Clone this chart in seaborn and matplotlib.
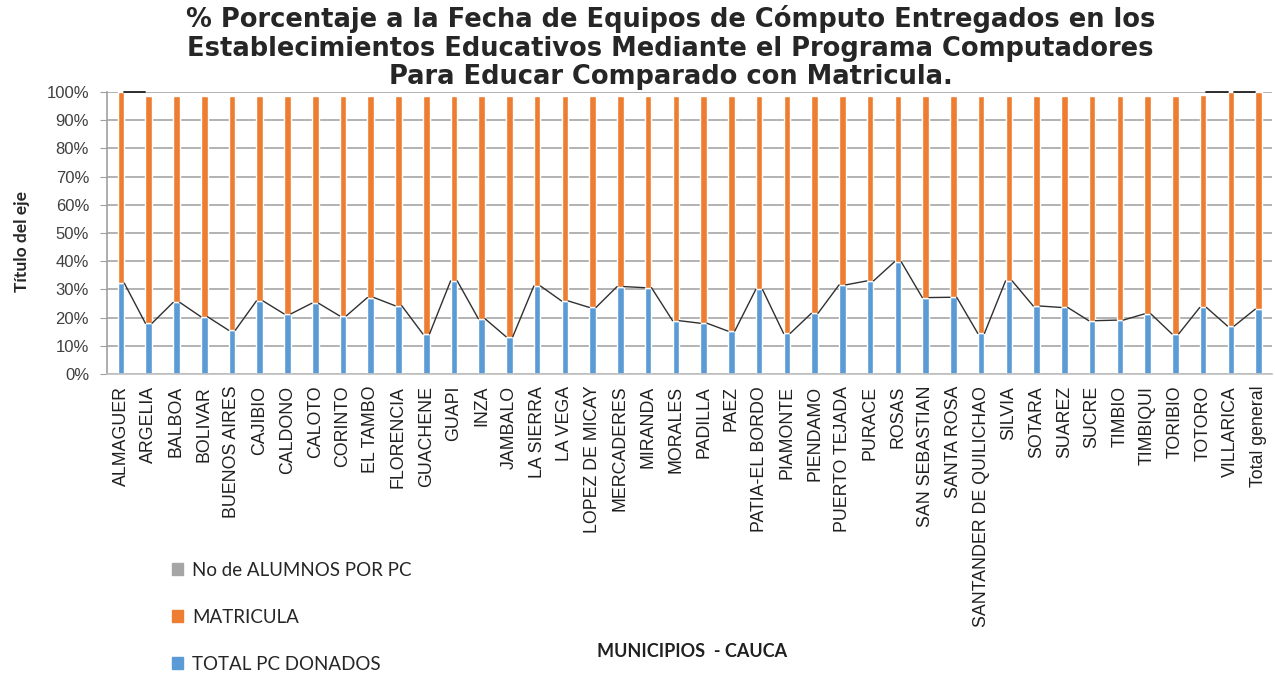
import matplotlib
matplotlib.use("Agg")
import matplotlib.pyplot as plt
import seaborn as sns
from matplotlib.patches import Patch

municipios = ["ALMAGUER", "ARGELIA", "BALBOA", "BOLIVAR", "BUENOS AIRES", "CAJIBIO",
              "CALDONO", "CALOTO", "CORINTO", "EL TAMBO", "FLORENCIA", "GUACHENE",
              "GUAPI", "INZA", "JAMBALO", "LA SIERRA", "LA VEGA", "LOPEZ DE MICAY",
              "MERCADERES", "MIRANDA", "MORALES", "PADILLA", "PAEZ", "PATIA-EL BORDO",
              "PIAMONTE", "PIENDAMO", "PUERTO TEJADA", "PURACE", "ROSAS", "SAN SEBASTIAN",
              "SANTA ROSA", "SANTANDER DE QUILICHAO", "SILVIA", "SOTARA", "SUAREZ", "SUCRE",
              "TIMBIO", "TIMBIQUI", "TORIBIO", "TOTORO", "VILLARICA", "Total general"]

# % share of each series in the 100% stacked column
pc_donados = [32.2, 18.0, 25.4, 20.3, 15.5, 25.9, 21.3, 25.1, 20.6, 27.1, 24.2, 14.2,
              33.0, 19.6, 13.2, 31.2, 25.9, 23.6, 31.0, 30.6, 18.9, 18.0, 15.2, 30.0,
              14.4, 21.5, 31.6, 33.0, 39.8, 27.1, 27.2, 14.4, 33.0, 24.1, 23.6, 18.9,
              19.1, 21.3, 14.2, 23.6, 17.0, 23.0]
alumnos_pc = [0.0] + [1.5] * 38 + [1.2, 0.0, 0.0]
matricula = [100 - b - g for b, g in zip(pc_donados, alumnos_pc)]

c_blue = "#5B9BD5"
c_orange = "#ED7D31"
c_grey = "#A5A5A5"

sns.set_style("white")
plt.rcParams["font.family"] = ["Liberation Sans", "DejaVu Sans"]

fig = plt.figure(figsize=(12.75, 6.73), dpi=100)
ax = fig.add_axes([0.084, 0.4443, 0.914, 0.419])

w = 0.24
sns.barplot(x=municipios, y=pc_donados, color=c_blue, width=w, errorbar=None,
            saturation=1, ax=ax, zorder=2)
sns.barplot(x=municipios, y=matricula, bottom=pc_donados, color=c_orange, width=w,
            errorbar=None, saturation=1, ax=ax, zorder=2)

# series lines (Excel style) between adjacent bars
tops = [b + m for b, m in zip(pc_donados, matricula)]
for i in range(len(municipios) - 1):
    ax.plot([i + w / 2, i + 1 - w / 2], [pc_donados[i], pc_donados[i + 1]],
            color="#303030", lw=1, zorder=3)
    if max(tops[i], tops[i + 1]) > 99.9:
        ax.plot([i + w / 2, i + 1 - w / 2], [max(tops[i], tops[i + 1])] * 2,
                color="#202020", lw=1.3, zorder=3, clip_on=False)

ax.set_xlim(-0.5, len(municipios) - 0.5)
ax.set_ylim(0, 100)
ax.set_yticks(range(0, 101, 10))
ax.set_yticklabels([f"{v}%" for v in range(0, 101, 10)], fontsize=12, color="#404040")
ax.set_xticks(range(len(municipios)))
ax.set_xticklabels(municipios, rotation=90, fontsize=12.8, color="#202020")
ax.tick_params(axis="x", length=0, pad=8.5)
ax.tick_params(axis="y", length=5, color="#A0A0A0", pad=8, left=True)
ax.grid(axis="y", color="#A6A6A6", lw=1.2, zorder=0)
ax.set_axisbelow(True)
for s in ["top", "right"]:
    ax.spines[s].set_visible(False)
ax.spines["left"].set_color("#A0A0A0")
ax.spines["bottom"].set_color("#C0C0C0")
ax.spines["left"].set_linewidth(1.2)
ax.spines["bottom"].set_linewidth(1.2)
ax.set_xlabel("")
ax.set_ylabel("Título del eje", fontsize=12.5, fontweight="bold", family=["Lato", "DejaVu Sans"])
ax.yaxis.set_label_coords(-0.066, 0.47)

fig.text(0.526, 0.992,
         "% Porcentaje a la Fecha de Equipos de Cómputo Entregados en los\n"
         "Establecimientos Educativos Mediante el Programa Computadores\n"
         "Para Educar Comparado con Matricula.",
         ha="center", va="top", fontsize=18.5, fontweight="bold", color="#262626",
         family=["DejaVu Sans"], linespacing=1.12)

fig.text(0.543, 0.032, "MUNICIPIOS  - CAUCA", ha="center", va="center", fontsize=13,
         fontweight="bold", family=["Lato", "DejaVu Sans"], color="#202020")

handles = [Patch(color=c_grey), Patch(color=c_orange), Patch(color=c_blue)]
labels = ["No de ALUMNOS POR PC", "MATRICULA", "TOTAL PC DONADOS"]
fig.legend(handles, labels, loc="center left", bbox_to_anchor=(0.122, 0.083),
           frameon=False, handlelength=0.55, handleheight=0.55,
           handletextpad=0.5, labelspacing=1.6, prop={"family": "Lato", "size": 13.5})

fig.savefig("out.png", dpi=100)
